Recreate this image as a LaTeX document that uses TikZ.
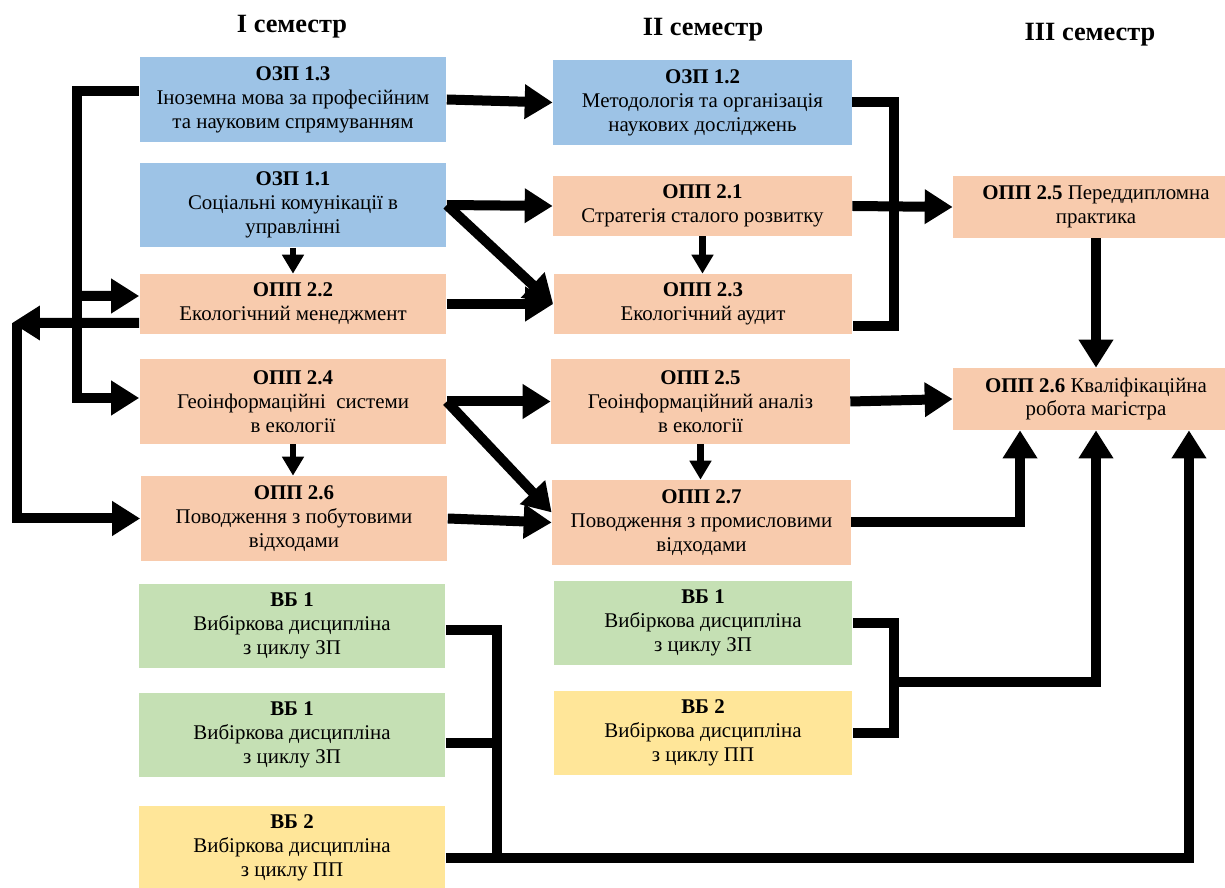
\documentclass[tikz,border=0pt]{standalone}
\usepackage{fontspec}
\setmainfont{Liberation Serif}
\usetikzlibrary{arrows.meta}

\definecolor{ozpblue}{RGB}{157,195,230}
\definecolor{opppeach}{RGB}{248,203,173}
\definecolor{vbgreen}{RGB}{197,224,180}
\definecolor{vbyellow}{RGB}{255,230,153}

\tikzset{
	box/.style={rectangle, inner sep=0pt, align=center, font=\fontsize{11.9}{13.6}\selectfont},
	ozp/.style={box, fill=ozpblue},
	opp/.style={box, fill=opppeach},
	vbz/.style={box, fill=vbgreen},
	vbp/.style={box, fill=vbyellow},
	colone/.style={minimum width=6.14cm},
	coltwo/.style={minimum width=5.98cm},
	colthree/.style={minimum width=5.72cm, minimum height=1.24cm},
	tall/.style={minimum height=1.7cm},
	short/.style={minimum height=1.2cm},
	sem/.style={font=\fontsize{15}{17}\selectfont\bfseries},
	link/.style={line width=0.2cm, -{Triangle[length=0.56cm,width=0.66cm]}},
	bar/.style={line width=0.2cm},
	small/.style={line width=0.13cm, -{Triangle[length=0.38cm,width=0.42cm]}}
}

\begin{document}
\begin{tikzpicture}[x=0.02cm, y=-0.02cm]
		%%%%% START %%%%%
		\useasboundingbox (0,0) rectangle (1225,888);
		
		\node[sem] (s1) at (292,27) {І семестр};
		\node[sem] (s2) at (703,30) {ІІ семестр};
		\node[sem] (s3) at (1090,35) {ІІІ семестр};
		
		% I semester
		\node[ozp, colone, tall] (ozp13) at (293,99.5) {\textbf{ОЗП 1.3}\\Іноземна мова за професійним\\та науковим спрямуванням};
		\node[ozp, colone, tall] (ozp11) at (293,205) {\textbf{ОЗП 1.1}\\Соціальні комунікації в\\управлінні};
		\node[opp, colone, short] (opp22) at (293,304) {\textbf{ОПП 2.2}\\Екологічний менеджмент};
		\node[opp, colone, tall] (opp24) at (293,401.5) {\textbf{ОПП 2.4}\\Геоінформаційні\ \ системи\\в екології};
		\node[opp, colone, tall] (opp26) at (294,518.5) {\textbf{ОПП 2.6}\\Поводження з побутовими\\відходами};
		\node[vbz, colone, tall] (vb1a) at (292,626) {\textbf{ВБ 1}\\Вибіркова дисципліна\\з циклу ЗП};
		\node[vbz, colone, tall] (vb1b) at (292,735) {\textbf{ВБ 1}\\Вибіркова дисципліна\\з циклу ЗП};
		\node[vbp, colone, tall] (vb2a) at (292,848) {\textbf{ВБ 2}\\Вибіркова дисципліна\\з циклу ПП};
		
		% II semester
		\node[ozp, coltwo, tall] (ozp12) at (702.5,102.5) {\textbf{ОЗП 1.2}\\Методологія та організація\\наукових досліджень};
		\node[opp, coltwo, short] (opp21) at (702.5,206) {\textbf{ОПП 2.1}\\Стратегія сталого розвитку};
		\node[opp, coltwo, short] (opp23) at (703,304) {\textbf{ОПП 2.3}\\Екологічний аудит};
		\node[opp, coltwo, tall] (opp25) at (700.5,401.5) {\textbf{ОПП 2.5}\\Геоінформаційний аналіз\\в екології};
		\node[opp, coltwo, tall] (opp27) at (701.5,522.5) {\textbf{ОПП 2.7}\\Поводження з промисловими\\відходами};
		\node[vbz, coltwo, tall] (vb1c) at (703,623) {\textbf{ВБ 1}\\Вибіркова дисципліна\\з циклу ЗП};
		\node[vbp, coltwo, tall] (vb2b) at (703,733) {\textbf{ВБ 2}\\Вибіркова дисципліна\\з циклу ПП};
		
		% III semester
		\node[opp, colthree] (pd25) at (1096,207) {\textbf{ОПП 2.5} Переддипломна\\практика};
		\node[opp, colthree] (kv26) at (1096,399) {\textbf{ОПП 2.6} Кваліфікаційна\\робота магістра};
		
		\coordinate (jl) at (77,296);
		\coordinate (lt) at (12,323);
		\coordinate (jr) at (893,682);
		
		% left side
		\draw[link] ([yshift=0.17cm]ozp13.west) -- ++(-62,0) |- ([yshift=0.07cm]opp24.west);
		\draw[link] (jl) -- ([yshift=0.16cm]opp22.west);
		\draw[link] ([yshift=-0.38cm]opp22.west) -- (lt);
		\draw[link] ([xshift=0.1cm]lt) |- (opp26.west);
		\draw[small] (ozp11.south) -- (ozp11.south |- opp22.north);
		\draw[small] (opp24.south) -- (opp24.south |- opp26.north);
		
		% I -> II
		\draw[link] (ozp13.east) -- (ozp12.west);
		\draw[link] (ozp11.east) -- (opp21.west);
		\draw[link] (ozp11.east) -- (opp23.west);
		\draw[link] (opp22.east) -- (opp23.west);
		\draw[link] (opp24.east) -- (opp25.west);
		\draw[link] (opp24.east) -- ([yshift=0.2cm]opp27.west);
		\draw[link] (opp26.east) -- (opp27.west);
		\draw[small] (opp21.south) -- (opp21.south |- opp23.north);
		\draw[small] (opp25.south) -- (opp25.south |- opp27.north);
		
		% II -> III
		\draw[bar] (ozp12.east) -- ++(42,0) |- ([yshift=-0.44cm]opp23.east);
		\draw[link] (opp21.east) -- (pd25.west);
		\draw[link] (opp25.east) -- (kv26.west);
		\draw[link] (opp27.east) -| ([xshift=-1.52cm]kv26.south);
		\draw[link] (pd25.south) -- (kv26.north);
		
		% electives
		\draw[bar] (vb1c.east) -- ++(41,0) |- (vb2b.east);
		\draw[link] (jr) -| (kv26.south);
		\draw[bar] ([yshift=-0.08cm]vb1a.east) -- ++(51,0) |- ([yshift=-0.2cm]vb2a.east);
		\draw[bar] ([yshift=-0.16cm]vb1b.east) -- ++(51,0);
		\draw[link] ([yshift=-0.2cm]vb2a.east) -| ([xshift=1.86cm]kv26.south);
		
		%%%%% END %%%%%
	\end{tikzpicture}
\end{document}
